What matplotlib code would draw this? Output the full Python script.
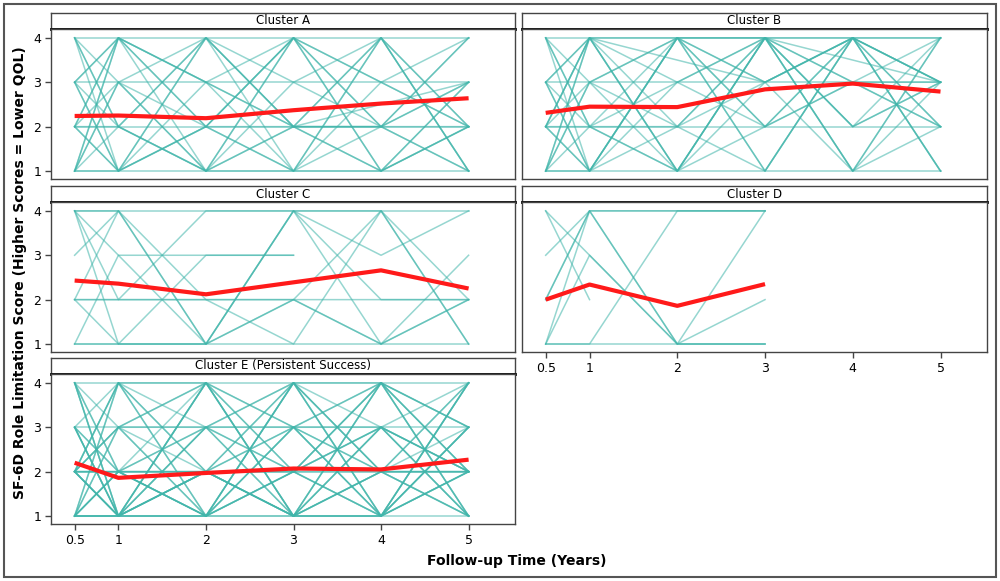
import matplotlib
matplotlib.use("Agg")
import matplotlib.pyplot as plt
from matplotlib.patches import Rectangle

times = [0.5, 1, 2, 3, 4, 5]
times_d = [0.5, 1, 2, 3]

# individual trajectories (None = visit missing)
cluster_a = [
    [4, 4, 4, 4, 4, 4], [4, 1, 2, 1, 3, 2], [4, 2, 4, 2, 1, 3], [3, 3, 3, 3, 3, 3],
    [3, 4, 1, 4, 2, 1], [3, 1, 3, 2, 4, 2], [2, 2, 2, 2, 2, 2], [2, 4, 2, 1, 4, 1],
    [2, 1, 4, 3, 2, 4], [2, 3, 1, 2, 1, 2], [1, 1, 1, 1, 1, 1], [1, 4, 3, 1, 2, 3],
    [1, 2, 1, 4, 3, 2], [1, 3, 2, 2, 4, 1], [4, 3, 1, 2, 2, 4], [3, 2, 4, 1, 1, 2],
    [2, 4, 3, 4, 2, 3], [1, 1, 2, 4, 1, 2], [4, 2, 1, 3, 4, 1], [2, 1, 4, 2, None, 3],
    [3, 4, None, 2, 2, 1], [1, 4, 2, 4, 3, 4], [2, 2, 1, 1, 4, 2], [3, 1, 2, 4, 1, 3],
    [1, 3, 4, 2, 2, 2],
]
cluster_b = [
    [4, 4, 4, 4, 4, 4], [4, 1, 3, 4, 2, 3], [4, 2, 1, 3, 4, 1], [3, 3, 3, 3, 3, 3],
    [3, 4, 2, 1, 4, 2], [3, 1, 4, 2, 3, 4], [2, 2, 2, 2, 2, 2], [2, 4, 1, 4, 1, 3],
    [2, 1, 4, 3, 4, 2], [2, 3, 2, 4, 1, 4], [1, 1, 1, 1, 1, 1], [1, 4, 4, 2, 3, 3],
    [1, 2, 3, 4, 4, 1], [1, 3, 1, 4, 2, 4], [4, 3, 4, 1, 4, 3], [3, 2, 1, 4, 3, 2],
    [2, 4, 3, 2, 4, 3], [1, 1, 4, 3, 1, 4], [4, 2, 2, 4, 1, 2], [2, 1, 4, 4, None, 3],
    [3, 4, None, 3, 4, 1], [1, 4, 1, 4, 2, 3], [2, 2, 4, 1, 4, 3], [3, 1, 2, 3, 4, 4],
    [1, 3, 4, 4, 3, 2], [2, 4, 1, 2, 4, 3],
]
cluster_c = [
    [4, 4, 4, 4, 4, 4], [4, 2, 2, 2, 2, 2], [4, 1, 1, 1, 1, 1], [3, 4, 1, 4, 1, 2],
    [2, 4, 1, 2, 4, 1], [2, 1, 3, 3, None, None], [1, 3, 3, 3, None, None],
    [2, 2, 4, 4, 2, 2], [1, 1, 1, 4, 3, 4], [4, 4, 2, 1, 4, 1], [2, 2, 2, 2, 1, 3],
    [1, 1, 1, 2, 1, 2], [4, None, 1, 4, 4, 2],
]
cluster_d = [
    [4, 2, None, None], [4, None, 1, 4], [3, 4, 4, 4], [2, 4, 1, 2],
    [2, 4, 4, 4], [1, 4, 1, 1], [1, 3, 1, 1], [1, 1, 4, 4], [1, 1, 1, 1],
]
cluster_e = [
    [4, 4, 4, 4, 4, 4], [4, 1, 2, 4, 1, 3], [4, 2, 1, 3, 4, 1], [4, 3, 4, 1, 2, 2],
    [3, 3, 3, 3, 3, 3], [3, 4, 1, 2, 4, 1], [3, 1, 4, 1, 3, 2], [3, 2, 2, 4, 1, 4],
    [2, 2, 2, 2, 2, 2], [2, 4, 3, 1, 4, 2], [2, 1, 4, 3, 1, 3], [2, 3, 1, 4, 2, 1],
    [1, 1, 1, 1, 1, 1], [1, 4, 2, 3, 1, 4], [1, 2, 4, 1, 3, 2], [1, 3, 1, 2, 4, 1],
    [2, 1, 1, 4, 2, 2], [2, 2, 3, 2, 1, 4], [1, 1, 4, 2, 3, 1], [3, 1, 2, 1, 1, 3],
    [2, 4, 1, 4, 3, 2], [1, 2, 2, 3, 4, 3], [4, 1, 3, 2, 2, 1], [2, 1, 2, 1, 4, 2],
    [1, 3, 3, 4, 2, 4], [3, 2, 1, 2, 1, 2], [2, 1, 3, 1, 2, 3], [1, 4, 4, 3, 3, 1],
    [2, 2, 1, 4, 4, 2], [4, 2, 2, 1, 1, 4], [1, 1, 3, 3, 2, 2], [2, 3, 4, 2, 3, 1],
    [3, 1, 1, 3, 2, None], [1, 2, None, 4, 1, 2], [2, 1, 2, 2, 3, 4], [1, 1, 2, 1, 1, 3],
    [2, 2, 1, 1, 2, 1], [1, 2, 1, 2, 1, 2], [3, 1, 2, 2, 4, 3], [2, 4, 2, 1, 3, 2],
    [1, 1, 4, 1, 2, 4], [4, 1, 1, 3, 1, 2], [2, 3, 2, 1, 4, 3],
]

# cluster means (red)
mean_a = [2.24, 2.25, 2.19, 2.37, 2.52, 2.64]
mean_b = [2.31, 2.45, 2.44, 2.84, 2.97, 2.79]
mean_c = [2.43, 2.36, 2.12, 2.39, 2.66, 2.25]
mean_d = [2.00, 2.34, 1.86, 2.35]
mean_e = [2.20, 1.86, 1.97, 2.07, 2.05, 2.27]

W, H = 1000, 581
fig = plt.figure(figsize=(10, 5.81), dpi=100)
fig.patches.append(Rectangle((4 / W, 4 / H), 992 / W, 573 / H, transform=fig.transFigure,
                             fill=False, edgecolor="#555555", lw=1.5))


def box(l, t, r, b):
    return [l / W, 1 - b / H, (r - l) / W, (b - t) / H]


def panel(l, r, t, title, traj, x, mean, ylab, xlab):
    b = t + 150
    st = fig.add_axes(box(l, t - 16, r, t))
    st.set_xticks([]); st.set_yticks([])
    for s in st.spines.values():
        s.set_color("#444444"); s.set_linewidth(1)
    st.spines["bottom"].set_color("black"); st.spines["bottom"].set_linewidth(2)
    st.text(0.5, 0.5, title, ha="center", va="center", fontsize=8.5, transform=st.transAxes)

    ax = fig.add_axes(box(l, t, r, b))
    for tr in traj:
        xs = [xv for xv, yv in zip(x, tr) if yv is not None]
        ys = [yv for yv in tr if yv is not None]
        ax.plot(xs, ys, color="#40b5aa", alpha=0.55, lw=1.1)
    ax.plot(x, mean, color="#ff1a1a", lw=3, solid_capstyle="butt")
    ax.set_xlim(0.23, 5.53)
    ax.set_ylim(0.82, 4.2)
    for s in ax.spines.values():
        s.set_color("#444444"); s.set_linewidth(1)
    ax.set_yticks([1, 2, 3, 4])
    ax.set_xticks(times)
    ax.tick_params(length=4, width=1, color="#444444", labelsize=9, pad=3)
    if not ylab:
        ax.tick_params(axis="y", left=False, labelleft=False)
    if xlab:
        ax.set_xticklabels(["0.5", "1", "2", "3", "4", "5"])
    else:
        ax.tick_params(axis="x", bottom=False, labelbottom=False)
    return ax


panel(51, 515, 29, "Cluster A", cluster_a, times, mean_a, True, False)
panel(522, 987, 29, "Cluster B", cluster_b, times, mean_b, False, False)
panel(51, 515, 202, "Cluster C", cluster_c, times, mean_c, True, False)
panel(522, 987, 202, "Cluster D", cluster_d, times_d, mean_d, False, True)
panel(51, 515, 374, "Cluster E (Persistent Success)", cluster_e, times, mean_e, True, True)

fig.text(517 / W, 1 - 561 / H, "Follow-up Time (Years)", ha="center", va="center",
         fontsize=10, fontweight="bold")
fig.text(20 / W, 1 - 273 / H, "SF-6D Role Limitation Score (Higher Scores = Lower QOL)",
         ha="center", va="center", rotation=90, fontsize=10, fontweight="bold")

fig.savefig("out.png", dpi=100)
